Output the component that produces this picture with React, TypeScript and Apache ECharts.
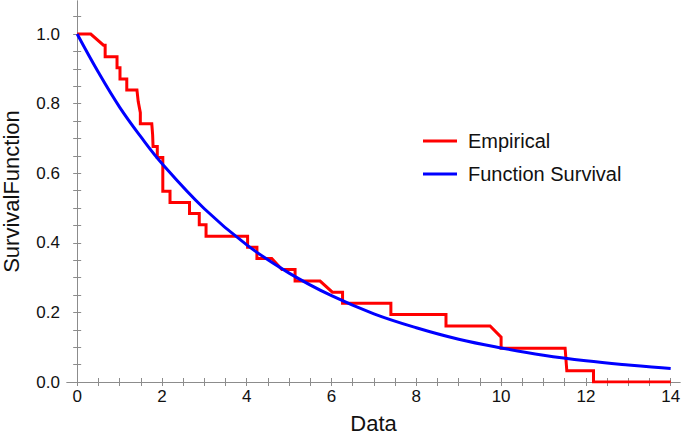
import React, { useEffect, useRef } from "react";
import * as echarts from "echarts";

// Empirical survival function vertices (x, S)
const empX = [0, 0.32, 0.62, 0.66, 0.66, 0.94, 0.94, 1.01, 1.01, 1.17, 1.17, 1.41, 1.44, 1.49, 1.49, 1.76, 1.78, 1.79, 1.89, 1.89, 2.02, 2.02, 2.19, 2.19, 2.65, 2.65, 2.88, 2.88, 3.04, 3.04, 4.02, 4.02, 4.24, 4.24, 4.59, 4.83, 5.14, 5.14, 5.73, 6.02, 6.26, 6.26, 7.4, 7.4, 8.7, 8.7, 9.74, 10.0, 10.0, 11.51, 11.55, 12.18, 12.18, 14.0];
const empY = [1, 1, 0.968, 0.968, 0.935, 0.935, 0.903, 0.903, 0.871, 0.871, 0.839, 0.839, 0.806, 0.774, 0.742, 0.742, 0.71, 0.677, 0.677, 0.645, 0.645, 0.548, 0.548, 0.516, 0.516, 0.484, 0.484, 0.452, 0.452, 0.419, 0.419, 0.387, 0.387, 0.355, 0.355, 0.323, 0.323, 0.29, 0.29, 0.258, 0.258, 0.226, 0.226, 0.194, 0.194, 0.161, 0.161, 0.129, 0.097, 0.097, 0.032, 0.032, 0, 0];

// Fitted survival function
const fitX = [0, 0.5, 1, 1.5, 2, 3, 4, 5, 6, 7, 8, 9, 10, 11, 12, 13, 14];
const fitY = [1.0, 0.89, 0.79, 0.705, 0.628, 0.498, 0.394, 0.313, 0.248, 0.196, 0.156, 0.123, 0.098, 0.077, 0.061, 0.049, 0.039];

const xLabelValues = [0, 2, 4, 6, 8, 10, 12, 14];
const xTickValues = [0, 0.5, 1, 1.5, 2, 2.5, 3, 3.5, 4, 4.5, 5, 5.5, 6, 6.5, 7, 7.5, 8, 8.5, 9, 9.5, 10, 10.5, 11, 11.5, 12, 12.5, 13, 13.5, 14];
const yLabelValues = [0, 0.2, 0.4, 0.6, 0.8, 1.0];
const yTickValues = [0, 0.05, 0.1, 0.15, 0.2, 0.25, 0.3, 0.35, 0.4, 0.45, 0.5, 0.55, 0.6, 0.65, 0.7, 0.75, 0.8, 0.85, 0.9, 0.95, 1.0, 1.05];

const seriesNames = ["Empirical", "Function Survival"];

const FONT = "'Liberation Sans', Arial, sans-serif";
const FRAME = "#8c8c8c";

export default function App() {
  const ref = useRef<HTMLDivElement>(null);
  useEffect(() => {
    document.body.style.margin = "0";
    const chart = echarts.init(ref.current!, null, { renderer: "svg" });
    const xRange = { min: -0.24, max: 14.22 };
    const yRange = { min: 0, max: 1.095 };
    const frameLine = { show: true, lineStyle: { color: FRAME, width: 1 } };
    const xTick = { show: true, inside: true, length: 4, customValues: xTickValues, lineStyle: { color: FRAME } };
    const yTick = { show: true, inside: true, length: 4, customValues: yTickValues, lineStyle: { color: FRAME } };
    chart.setOption({
      animation: false,
      backgroundColor: "#ffffff",
      textStyle: { fontFamily: FONT },
      grid: { left: 67, right: 5, top: 1, bottom: 54, containLabel: false, outerBoundsMode: "none" },
      legend: {
        orient: "vertical",
        left: 418,
        top: 126,
        itemWidth: 34,
        itemHeight: 3,
        itemGap: 13,
        icon: "rect",
        data: seriesNames,
        textStyle: { fontSize: 20, color: "#111", fontFamily: FONT, padding: [0, 0, 0, 6] },
      },
      xAxis: [
        {
          type: "value",
          position: "bottom",
          ...xRange,
          name: "Data",
          nameLocation: "middle",
          nameGap: 30,
          nameTextStyle: { fontSize: 22, color: "#111", fontFamily: FONT },
          axisLine: frameLine,
          axisTick: xTick,
          axisLabel: { customValues: xLabelValues, fontSize: 17, color: "#111", margin: 6, fontFamily: FONT },
          splitLine: { show: false },
        },
        {
          type: "value",
          position: "top",
          ...xRange,
          axisLine: frameLine,
          axisTick: xTick,
          axisLabel: { show: false },
          splitLine: { show: false },
        },
      ],
      yAxis: [
        {
          type: "value",
          position: "left",
          ...yRange,
          name: "SurvivalFunction",
          nameLocation: "middle",
          nameGap: 45,
          nameTextStyle: { fontSize: 22, color: "#111", fontFamily: FONT },
          axisLine: frameLine,
          axisTick: yTick,
          axisLabel: {
            customValues: yLabelValues,
            fontSize: 17,
            color: "#111",
            margin: 7,
            fontFamily: FONT,
            formatter: (v: number) => v.toFixed(1),
          },
          splitLine: { show: false },
        },
        {
          type: "value",
          position: "right",
          ...yRange,
          axisLine: frameLine,
          axisTick: yTick,
          axisLabel: { show: false },
          splitLine: { show: false },
        },
      ],
      series: [
        {
          name: seriesNames[0],
          type: "line",
          data: empX.map((x, i) => [x, empY[i]]),
          showSymbol: false,
          symbol: "none",
          color: "#ff0000",
          lineStyle: { color: "#ff0000", width: 3, join: "miter" },
        },
        {
          name: seriesNames[1],
          type: "line",
          data: fitX.map((x, i) => [x, fitY[i]]),
          showSymbol: false,
          symbol: "none",
          smooth: 0.4,
          color: "#0000ff",
          lineStyle: { color: "#0000ff", width: 3 },
        },
      ],
    });
    return () => chart.dispose();
  }, []);
  return <div ref={ref} style={{ position: "fixed", left: 0, top: 0, width: 685, height: 436 }} />;
}
